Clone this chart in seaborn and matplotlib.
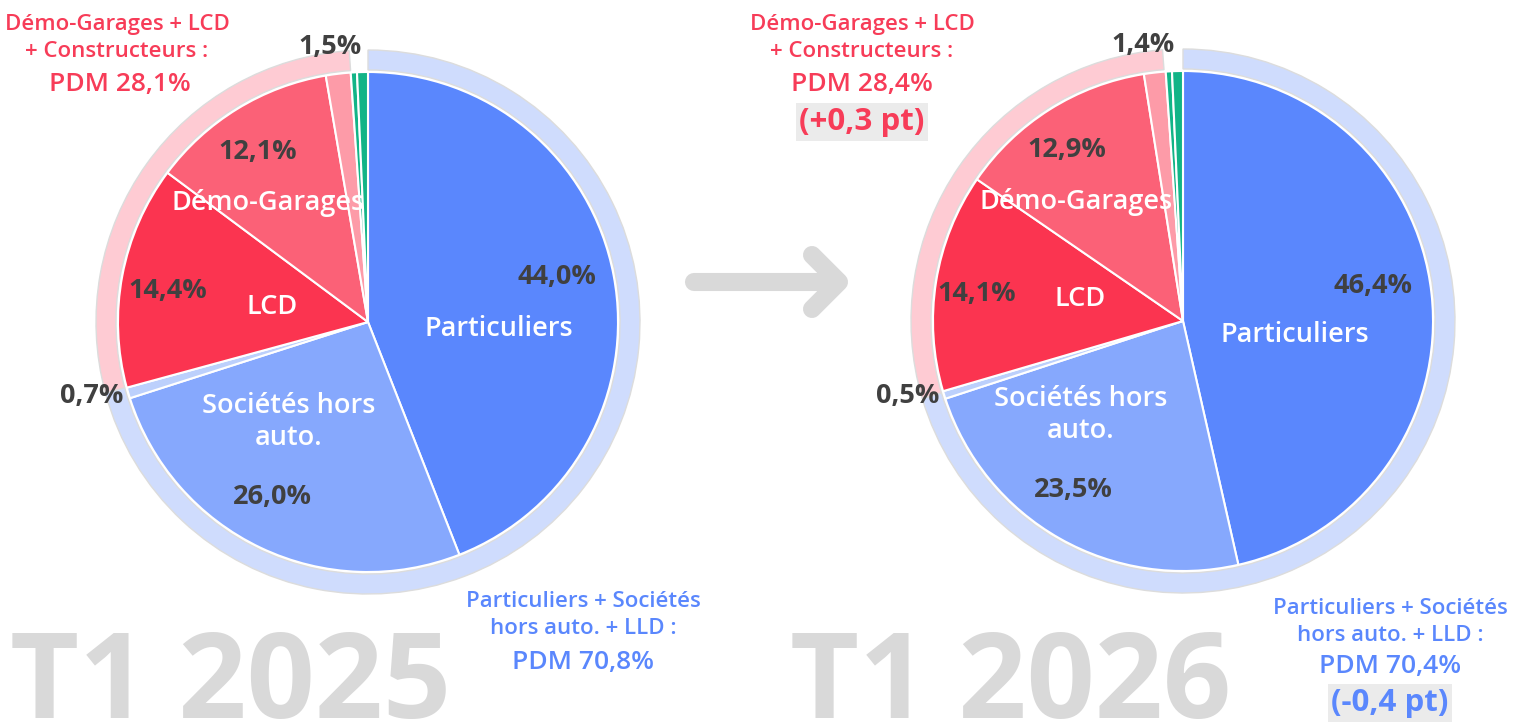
import matplotlib
matplotlib.use("Agg")
import matplotlib.pyplot as plt
import seaborn as sns

sns.set_theme(style="white")
plt.rcParams['font.family'] = ['Open Sans', 'DejaVu Sans']

# ---- data ----
categories = ["Particuliers", "Sociétés hors auto.", "LLD", "LCD", "Démo-Garages",
              "Constructeurs", "Autres 1", "Autres 2"]
values_2025 = [44.0, 26.0, 0.7, 14.4, 12.1, 1.6, 0.4, 0.7]
values_2026 = [46.4, 23.5, 0.5, 14.1, 12.9, 1.4, 0.4, 0.7]
groups = ["Particuliers + Sociétés hors auto. + LLD", "Démo-Garages + LCD + Constructeurs", "Autres"]
group_2025 = [70.8, 28.1, 1.1]
group_2026 = [70.4, 28.4, 1.2]
pct_labels_2025 = ["44,0%", "26,0%", "0,7%", "14,4%", "12,1%", "1,5%"]
pct_labels_2026 = ["46,4%", "23,5%", "0,5%", "14,1%", "12,9%", "1,4%"]
periods = ["T1 2025", "T1 2026"]
delta_blue = "(-0,4 pt)"
delta_pink = "(+0,3 pt)"

colors = ["#5a87fd", "#86a8fd", "#bcd0fc", "#fb3450", "#fb6177", "#fd9ba8", "#12b487", "#12b487"]
ring_colors = ["#cfdcfd", "#fecbd3", "none"]
BLUE_TXT = "#5a87fd"
PINK_TXT = "#f73c58"
DARK = "#404040"
GREY = "#d9d9d9"

W, H = 1525, 727
fig = plt.figure(figsize=(W / 100, H / 100), dpi=100)
ax = fig.add_axes([0, 0, 1, 1])
ax.set_xlim(0, W)
ax.set_ylim(0, H)
ax.set_aspect("equal")
ax.axis("off")

def Y(y):
    return H - y

def draw_pie(cx, cy, vals, gvals):
    ax.pie(vals, colors=colors, startangle=90, counterclock=False,
           center=(cx, Y(cy)), radius=250, frame=True,
           wedgeprops=dict(edgecolor="white", linewidth=1.5))
    wedges, _ = ax.pie(gvals, colors=ring_colors, startangle=90, counterclock=False,
                       center=(cx, Y(cy)), radius=272, frame=True,
                       wedgeprops=dict(width=20, edgecolor="#dcdcdc", linewidth=1.0))
    wedges[-1].set_edgecolor("none")

draw_pie(368, 322, values_2025, group_2025)
draw_pie(1183, 321, values_2026, group_2026)
ax.set_xlim(0, W)
ax.set_ylim(0, H)
ax.axis("off")

pct_kw = dict(fontsize=19.5, fontweight="bold", color=DARK, ha="center", va="center")
white_kw = dict(fontsize=19.5, fontweight="semibold", color="white", ha="center", va="center")

# 2025 labels
pos25 = [(557, 277), (272, 497), (92, 396), (168, 291), (258, 152), (330, 47)]
for (x, y), t in zip(pos25, pct_labels_2025):
    ax.text(x, Y(y), t, **pct_kw)
ax.text(499, Y(329), "Particuliers", **white_kw)
ax.text(289, Y(422), "Sociétés hors\nauto.", linespacing=1.2, **white_kw)
ax.text(272, Y(307), "LCD", **white_kw)
ax.text(268, Y(203), "Démo-Garages", **white_kw)

# 2026 labels
pos26 = [(1373, 286), (1073, 490), (908, 396), (977, 294), (1067, 150), (1143, 45)]
for (x, y), t in zip(pos26, pct_labels_2026):
    ax.text(x, Y(y), t, **pct_kw)
ax.text(1295, Y(335), "Particuliers", **white_kw)
ax.text(1081, Y(415), "Sociétés hors\nauto.", linespacing=1.2, **white_kw)
ax.text(1080, Y(299), "LCD", **white_kw)
ax.text(1076, Y(202), "Démo-Garages", **white_kw)

# group labels
grp_kw = dict(fontsize=16, fontweight="semibold", ha="center", va="center")
pdm_kw = dict(fontsize=19, fontweight="semibold", ha="center", va="center")
box = dict(boxstyle="square,pad=0.12", facecolor="#ebebeb", edgecolor="none")

ax.text(117, Y(38), "Démo-Garages + LCD\n+ Constructeurs :", color=PINK_TXT, linespacing=1.42, **grp_kw)
ax.text(120, Y(85), f"PDM {group_2025[1]:.1f}%".replace(".", ","), color=PINK_TXT, **pdm_kw)
ax.text(583, Y(615), "Particuliers + Sociétés\nhors auto. + LLD :", color=BLUE_TXT, linespacing=1.42, **grp_kw)
ax.text(583, Y(662), f"PDM {group_2025[0]:.1f}%".replace(".", ","), color=BLUE_TXT, **pdm_kw)

ax.text(862, Y(38), "Démo-Garages + LCD\n+ Constructeurs :", color=PINK_TXT, linespacing=1.42, **grp_kw)
ax.text(862, Y(85), f"PDM {group_2026[1]:.1f}%".replace(".", ","), color=PINK_TXT, **pdm_kw)
ax.text(862, Y(122), delta_pink, color=PINK_TXT, fontsize=22.5, fontweight="bold",
        ha="center", va="center", bbox=box)
ax.text(1390, Y(622), "Particuliers + Sociétés\nhors auto. + LLD :", color=BLUE_TXT, linespacing=1.42, **grp_kw)
ax.text(1390, Y(667), f"PDM {group_2026[0]:.1f}%".replace(".", ","), color=BLUE_TXT, **pdm_kw)
ax.text(1390, Y(703), delta_blue, color=BLUE_TXT, fontsize=22.5, fontweight="bold",
        ha="center", va="center", bbox=box)

# big period labels
ax.text(10, Y(718), periods[0], fontsize=86, fontweight="bold", color=GREY, ha="left", va="baseline")
ax.text(790, Y(718), periods[1], fontsize=86, fontweight="bold", color=GREY, ha="left", va="baseline")

# arrow
lw = 13
ax.plot([694, 838], [Y(282), Y(282)], color=GREY, lw=lw, solid_capstyle="round")
ax.plot([812, 839, 812], [Y(255), Y(282), Y(309)], color=GREY, lw=lw,
        solid_capstyle="round", solid_joinstyle="round")

fig.savefig("out.png", dpi=100, facecolor="white")
